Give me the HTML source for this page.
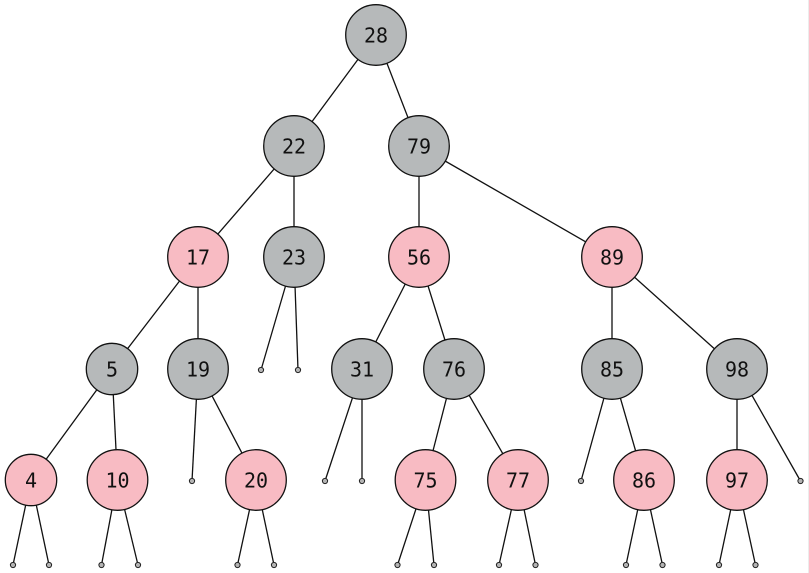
<!DOCTYPE html>
<html><head><meta charset="utf-8"><style>
html,body{margin:0;padding:0;background:#fff;}
svg{display:block;}
text{font-family:"DejaVu Sans Mono","Liberation Mono",monospace;font-size:20px;fill:#111;text-anchor:middle;}
</style></head><body>
<svg width="809" height="573" viewBox="0 0 809 573" xmlns="http://www.w3.org/2000/svg">
<rect x="0" y="0" width="809" height="573" fill="#fff"/>
<line x1="808.5" y1="0" x2="808.5" y2="573" stroke="#ececec" stroke-width="1"/>
<g stroke="#111" stroke-width="1.3" fill="none">
<line x1="376" y1="35" x2="294" y2="146"/>
<line x1="376" y1="35" x2="419" y2="146"/>
<line x1="294" y1="146" x2="198" y2="257"/>
<line x1="294" y1="146" x2="294" y2="257"/>
<line x1="419" y1="146" x2="419" y2="257"/>
<line x1="419" y1="146" x2="612" y2="257"/>
<line x1="198" y1="257" x2="112" y2="369"/>
<line x1="198" y1="257" x2="198" y2="369"/>
<line x1="294" y1="257" x2="261" y2="370"/>
<line x1="294" y1="257" x2="298" y2="370"/>
<line x1="419" y1="257" x2="362" y2="369"/>
<line x1="419" y1="257" x2="454" y2="369"/>
<line x1="612" y1="257" x2="612" y2="369"/>
<line x1="612" y1="257" x2="737" y2="369"/>
<line x1="112" y1="369" x2="31" y2="480"/>
<line x1="112" y1="369" x2="117.5" y2="480"/>
<line x1="198" y1="369" x2="192" y2="481"/>
<line x1="198" y1="369" x2="256" y2="480"/>
<line x1="362" y1="369" x2="325" y2="481"/>
<line x1="362" y1="369" x2="362" y2="481"/>
<line x1="454" y1="369" x2="425.5" y2="480"/>
<line x1="454" y1="369" x2="518" y2="480"/>
<line x1="612" y1="369" x2="581" y2="481"/>
<line x1="612" y1="369" x2="644" y2="480"/>
<line x1="737" y1="369" x2="737" y2="480"/>
<line x1="737" y1="369" x2="800.5" y2="481"/>
<line x1="31" y1="480" x2="13" y2="565"/>
<line x1="31" y1="480" x2="49" y2="565"/>
<line x1="117.5" y1="480" x2="101.5" y2="565"/>
<line x1="117.5" y1="480" x2="138" y2="565"/>
<line x1="256" y1="480" x2="237.5" y2="565"/>
<line x1="256" y1="480" x2="274" y2="565"/>
<line x1="425.5" y1="480" x2="397.5" y2="565"/>
<line x1="425.5" y1="480" x2="434" y2="565"/>
<line x1="518" y1="480" x2="499" y2="565"/>
<line x1="518" y1="480" x2="535.5" y2="565"/>
<line x1="644" y1="480" x2="626" y2="565"/>
<line x1="644" y1="480" x2="662.5" y2="565"/>
<line x1="737" y1="480" x2="719" y2="565"/>
<line x1="737" y1="480" x2="755.5" y2="565"/>
</g>
<g fill="#b4b4b4" stroke="#222" stroke-width="1">
<circle cx="261" cy="370" r="2.6"/><circle cx="298" cy="370" r="2.6"/>
<circle cx="192" cy="481" r="2.6"/>
<circle cx="325" cy="481" r="2.6"/><circle cx="362" cy="481" r="2.6"/>
<circle cx="581" cy="481" r="2.6"/>
<circle cx="800.5" cy="481" r="2.6"/>
<circle cx="13" cy="565" r="2.6"/><circle cx="49" cy="565" r="2.6"/>
<circle cx="101.5" cy="565" r="2.6"/><circle cx="138" cy="565" r="2.6"/>
<circle cx="237.5" cy="565" r="2.6"/><circle cx="274" cy="565" r="2.6"/>
<circle cx="397.5" cy="565" r="2.6"/><circle cx="434" cy="565" r="2.6"/>
<circle cx="499" cy="565" r="2.6"/><circle cx="535.5" cy="565" r="2.6"/>
<circle cx="626" cy="565" r="2.6"/><circle cx="662.5" cy="565" r="2.6"/>
<circle cx="719" cy="565" r="2.6"/><circle cx="755.5" cy="565" r="2.6"/>
</g>
<g stroke="#111" stroke-width="1.3">
<circle cx="376" cy="35" r="30.3" fill="#b6b9ba"/>
<circle cx="294" cy="146" r="30.3" fill="#b6b9ba"/>
<circle cx="419" cy="146" r="30.3" fill="#b6b9ba"/>
<circle cx="198" cy="257" r="30.3" fill="#f8bbc3"/>
<circle cx="294" cy="257" r="30.3" fill="#b6b9ba"/>
<circle cx="419" cy="257" r="30.3" fill="#f8bbc3"/>
<circle cx="612" cy="257" r="30.3" fill="#f8bbc3"/>
<circle cx="112" cy="369" r="25.7" fill="#b6b9ba"/>
<circle cx="198" cy="369" r="30.3" fill="#b6b9ba"/>
<circle cx="362" cy="369" r="30.3" fill="#b6b9ba"/>
<circle cx="454" cy="369" r="30.3" fill="#b6b9ba"/>
<circle cx="612" cy="369" r="30.3" fill="#b6b9ba"/>
<circle cx="737" cy="369" r="30.3" fill="#b6b9ba"/>
<circle cx="31" cy="480" r="25.7" fill="#f8bbc3"/>
<circle cx="117.5" cy="480" r="30.3" fill="#f8bbc3"/>
<circle cx="256" cy="480" r="30.3" fill="#f8bbc3"/>
<circle cx="425.5" cy="480" r="30.3" fill="#f8bbc3"/>
<circle cx="518" cy="480" r="30.3" fill="#f8bbc3"/>
<circle cx="644" cy="480" r="30.3" fill="#f8bbc3"/>
<circle cx="737" cy="480" r="30.3" fill="#f8bbc3"/>
</g>
<g>
<text x="376" y="42.3">28</text>
<text x="294" y="153.3">22</text>
<text x="419" y="153.3">79</text>
<text x="198" y="264.3">17</text>
<text x="294" y="264.3">23</text>
<text x="419" y="264.3">56</text>
<text x="612" y="264.3">89</text>
<text x="112" y="376.3">5</text>
<text x="198" y="376.3">19</text>
<text x="362" y="376.3">31</text>
<text x="454" y="376.3">76</text>
<text x="612" y="376.3">85</text>
<text x="737" y="376.3">98</text>
<text x="31" y="487.3">4</text>
<text x="117.5" y="487.3">10</text>
<text x="256" y="487.3">20</text>
<text x="425.5" y="487.3">75</text>
<text x="518" y="487.3">77</text>
<text x="644" y="487.3">86</text>
<text x="737" y="487.3">97</text>
</g>
</svg>
</body></html>
